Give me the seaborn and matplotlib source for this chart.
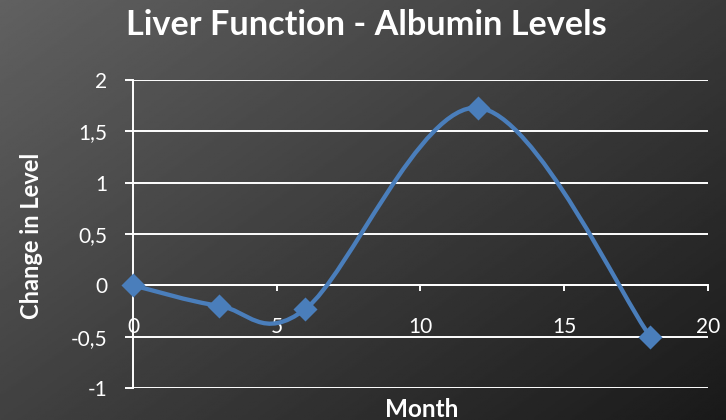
import numpy as np
import matplotlib
matplotlib.use("Agg")
import matplotlib.pyplot as plt
from matplotlib.path import Path
from matplotlib.patches import PathPatch
import seaborn as sns

# Albumin level change by month
months = [0, 3, 6, 12, 18]
change = [0.0, -0.2, -0.23, 1.73, -0.5]
y_ticks = [-1, -0.5, 0, 0.5, 1, 1.5, 2]
y_tick_labels = ["-1", "-0,5", "0", "0,5", "1", "1,5", "2"]
x_ticks = [0, 5, 10, 15, 20]
x_tick_labels = ["0", "5", "10", "15", "20"]

sns.set_theme(style="white")
plt.rcParams["font.family"] = ["Lato", "DejaVu Sans"]

LINE = "#4a7ebb"
WHITE = "white"

fig = plt.figure(figsize=(7.26, 4.2), dpi=100)

# diagonal dark gradient backdrop
bg = fig.add_axes([0, 0, 1, 1], zorder=-10)
gx, gy = np.meshgrid(np.linspace(0, 1, 300), np.linspace(0, 1, 300))
shade = 0.38 - 0.28 * (0.55 * gx + 0.45 * gy)
bg.imshow(shade, cmap="gray", vmin=0, vmax=1, aspect="auto",
          extent=[0, 1, 0, 1], origin="upper")
bg.set_axis_off()

ax = fig.add_axes([0.1832, 0.0762, 0.7918, 0.7333])
ax.patch.set_alpha(0)

# smoothed series: cubic Bezier segments with Catmull-Rom style handles
pts = np.column_stack([months, change]).astype(float)
ext = np.vstack([pts[0], pts, pts[-1]])
verts = [tuple(pts[0])]
codes = [Path.MOVETO]
for i in range(len(pts) - 1):
    p0, p1, p2, p3 = ext[i], ext[i + 1], ext[i + 2], ext[i + 3]
    c1 = p1 + (p2 - p0) / 6.0
    c2 = p2 - (p3 - p1) / 6.0
    verts += [tuple(c1), tuple(c2), tuple(p2)]
    codes += [Path.CURVE4] * 3
ax.add_patch(PathPatch(Path(verts, codes), facecolor="none", edgecolor=LINE,
                       lw=3.1, capstyle="round", joinstyle="round", zorder=3))

sns.scatterplot(x=months, y=change, marker="D", s=150, color=LINE,
                edgecolor=LINE, linewidth=0, ax=ax, zorder=4, clip_on=False)

ax.set_xlim(0, 20)
ax.set_ylim(-1, 2)
ax.set_yticks(y_ticks)
ax.set_yticklabels(y_tick_labels)
ax.set_xticks(x_ticks)
ax.set_xticklabels(x_tick_labels)

for yv in y_ticks:
    ax.axhline(yv, color=WHITE, lw=1.4, zorder=1)

for s in ["top", "right"]:
    ax.spines[s].set_visible(False)
ax.spines["bottom"].set_position(("data", 0))
ax.spines["bottom"].set_color(WHITE)
ax.spines["bottom"].set_linewidth(1.4)
ax.spines["left"].set_color(WHITE)
ax.spines["left"].set_linewidth(1.4)

ax.tick_params(axis="y", colors=WHITE, labelsize=15, length=6, width=1.4,
               direction="out", pad=12.5, left=True)
ax.tick_params(axis="x", colors=WHITE, labelsize=15, length=4.5, width=1.4,
               direction="out", pad=18, bottom=True)

fig.text(0.505, 0.9167, "Liver Function - Albumin Levels", color=WHITE,
         fontsize=24.7, fontweight="bold", ha="center", va="baseline")
fig.text(0.044, 0.438, "Change in Level", color=WHITE, fontsize=17,
         fontweight="bold", ha="center", va="center", rotation=90)
fig.text(0.5815, 0.006, "Month", color=WHITE, fontsize=17.5,
         fontweight="bold", ha="center", va="baseline")

fig.savefig("out.png", dpi=100)
